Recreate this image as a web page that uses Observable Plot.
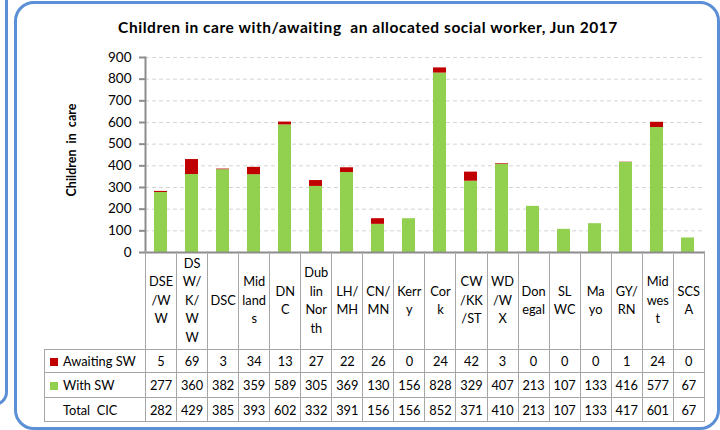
<!DOCTYPE html>
<html>
<head>
<meta charset="utf-8">
<script src="https://cdn.jsdelivr.net/npm/d3@7"></script>
<script src="https://cdn.jsdelivr.net/npm/@observablehq/plot@0.6"></script>
<style>
  html, body { margin: 0; padding: 0; background: #fff; }
  #wrap { position: relative; width: 720px; height: 430px; overflow: hidden; background: #fff; font-family: Lato, "Open Sans", sans-serif; }
  .leftpanel { position: absolute; left: -40px; top: -20px; width: 42px; height: 420px; border: 3px solid #5b8fd6; border-radius: 14px; }
  .panel { position: absolute; left: 14px; top: 1px; width: 700px; height: 423px; border: 3px solid #5b8fd6; border-radius: 20px; }
  .title { position: absolute; left: 16px; width: 704px; top: 18px; text-align: center; font-weight: bold; font-size: 15.5px; letter-spacing: 0.55px; white-space: pre; color: #000; }
  .ylabel { position: absolute; left: 71px; top: 150px; transform: translate(-50%, -50%) rotate(-90deg); font-weight: bold; font-size: 12.5px; white-space: pre; color: #000; }
  #chart { position: absolute; left: 0; top: 0; }
  table.dt { position: absolute; left: 44px; top: 251px; border-collapse: collapse; table-layout: fixed; font-size: 12.8px; color: #000; }
  table.dt td { border: 1px solid #a6a6a6; text-align: center; padding: 0; overflow: hidden; white-space: nowrap; }
  table.dt tr.hdr td { border-top: none; line-height: 18.5px; height: 98px; vertical-align: middle; }
  table.dt tr.hdr td.lg { border-left: none; }
  table.dt td.lg { text-align: left; border-left: 1px solid #a6a6a6; }
  .sq { display: inline-block; width: 8px; height: 8px; margin: 0 5px 0 5px; vertical-align: 0px; }
</style>
</head>
<body>
<div id="wrap">
  <div class="leftpanel"></div>
  <div class="panel"></div>
  <div class="title">Children in care with/awaiting  an allocated social worker, Jun 2017</div>
  <div class="ylabel">Children  in  care</div>
  <div id="chart"></div>
  <table class="dt" id="tbl"></table>
</div>
<script>
const categories = ["DSE/WW","DSW/K/WW","DSC","Midlands","DNC","Dublin North","LH/MH","CN/MN","Kerry","Cork","CW/KK/ST","WD/WX","Donegal","SLWC","Mayo","GY/RN","Midwest","SCSA"];
const headerLabels = [["DSE","/W","W"],["DS","W/","K/","W","W"],["DSC"],["Mid","land","s"],["DN","C"],["Dub","lin","Nor","th"],["LH/","MH"],["CN/","MN"],["Kerr","y"],["Cor","k"],["CW","/KK","/ST"],["WD","/W","X"],["Don","egal"],["SL","WC"],["Ma","yo"],["GY/","RN"],["Mid","wes","t"],["SCS","A"]];
const awaitingSW = [5,69,3,34,13,27,22,26,0,24,42,3,0,0,0,1,24,0];
const withSW = [277,360,382,359,589,305,369,130,156,828,329,407,213,107,133,416,577,67];
const totalCIC = [282,429,385,393,602,332,391,156,156,852,371,410,213,107,133,417,601,67];
const yTicks = [0,100,200,300,400,500,600,700,800,900];
const seriesNames = ["Awaiting SW","With SW"];
const seriesColors = ["#c00000","#92d050"];

const rows = [];
categories.forEach((c, i) => {
  rows.push({cat: c, series: "With SW", value: withSW[i]});
  rows.push({cat: c, series: "Awaiting SW", value: awaitingSW[i]});
});

const chart = Plot.plot({
  width: 720,
  height: 264,
  marginLeft: 145,
  marginRight: 16,
  marginTop: 57,
  marginBottom: 12,
  style: {fontFamily: "Lato, 'Open Sans', sans-serif", fontSize: "13px", background: "transparent", color: "#000"},
  x: {domain: categories, paddingInner: 0.58, paddingOuter: 0.29, axis: null},
  y: {domain: [0, 900], axis: null},
  color: {domain: seriesNames, range: seriesColors},
  marks: [
    Plot.ruleY(yTicks.slice(1), {stroke: "#d4d4d4", strokeWidth: 1, strokeDasharray: "4,3"}),
    Plot.barY(rows, Plot.stackY({x: "cat", y: "value", fill: "series", order: ["With SW","Awaiting SW"]})),
    Plot.axisY({ticks: yTicks, label: null, tickSize: 6, tickPadding: 8, stroke: "#8c8c8c", strokeWidth: 2, fill: "#000", tickFormat: d => String(d), fontSize: 13.5}),
    Plot.frame({anchor: "left", stroke: "#8c8c8c", strokeWidth: 2}),
    Plot.ruleY([0], {stroke: "#8c8c8c", strokeWidth: 2})
  ]
});
document.getElementById("chart").appendChild(chart);

// Table below the chart
const tbl = document.getElementById("tbl");
const colW = (704 - 145) / categories.length;
const cg = document.createElement("colgroup");
const c0 = document.createElement("col"); c0.style.width = (145 - 44) + "px"; cg.appendChild(c0);
categories.forEach(() => { const c = document.createElement("col"); c.style.width = colW + "px"; cg.appendChild(c); });
tbl.appendChild(cg);
tbl.style.width = (145 - 44 + colW * categories.length) + "px";

const hdr = document.createElement("tr"); hdr.className = "hdr";
const h0 = document.createElement("td"); h0.className = "lg"; hdr.appendChild(h0);
headerLabels.forEach(lines => { const td = document.createElement("td"); td.innerHTML = lines.join("<br>"); hdr.appendChild(td); });
tbl.appendChild(hdr);

const dataRows = [
  {label: "Awaiting SW", color: seriesColors[0], values: awaitingSW, h: 22},
  {label: "With SW", color: seriesColors[1], values: withSW, h: 24},
  {label: "Total  CIC", color: null, values: totalCIC, h: 23}
];
dataRows.forEach(r => {
  const tr = document.createElement("tr");
  const td0 = document.createElement("td"); td0.className = "lg"; td0.style.height = r.h + "px";
  td0.style.whiteSpace = "pre";
  td0.innerHTML = (r.color ? `<span class="sq" style="background:${r.color}"></span>` : `<span class="sq"></span>`) + r.label;
  tr.appendChild(td0);
  r.values.forEach(v => { const td = document.createElement("td"); td.textContent = v; tr.appendChild(td); });
  tbl.appendChild(tr);
});
</script>
</body>
</html>
